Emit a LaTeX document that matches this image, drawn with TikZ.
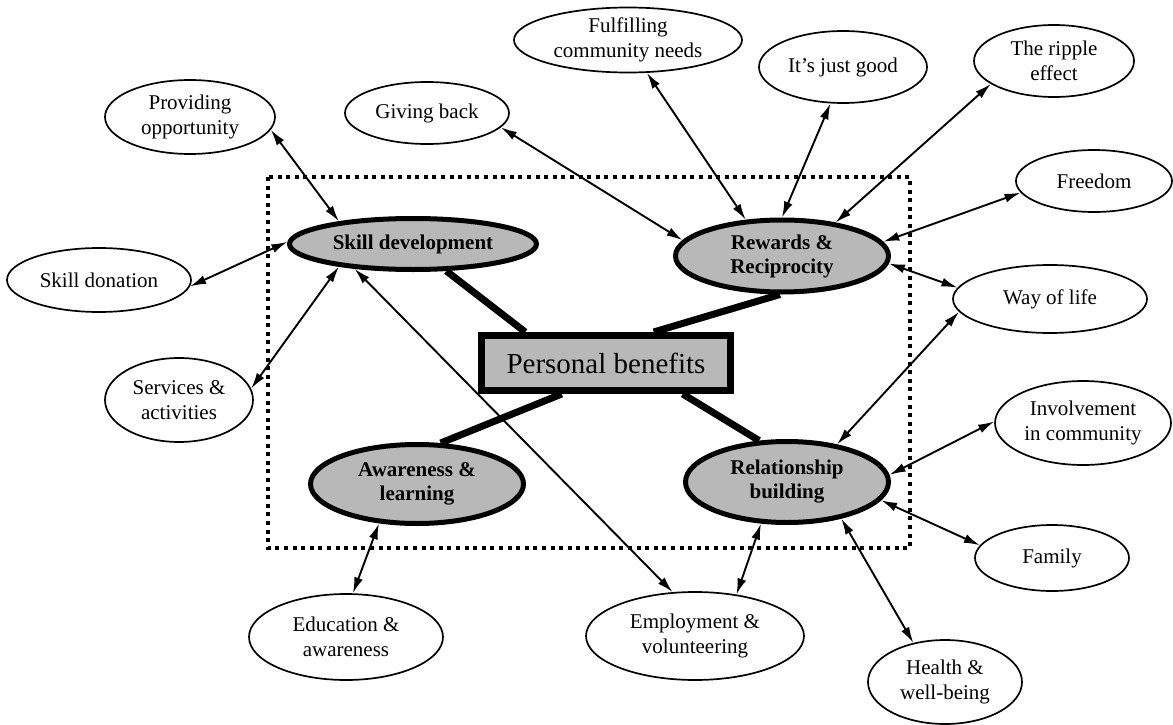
\documentclass[tikz,border=0pt]{standalone}
\usepackage{fontspec}
\setmainfont{Liberation Serif}
\usetikzlibrary{shapes.geometric,arrows.meta}
\pgfdeclarelayer{bg}
\pgfsetlayers{bg,main}
\definecolor{fillgray}{RGB}{184,184,184}
\begin{document}
\begin{tikzpicture}[x=1pt,y=-1pt,
  small/.style={ellipse, draw, line width=1.7pt, inner sep=0pt, align=center,
    font=\fontsize{21}{25}\selectfont},
  mainel/.style={ellipse, draw, line width=5pt, fill=fillgray, inner sep=0pt, align=center,
    font=\bfseries\fontsize{21}{24}\selectfont},
  link/.style={line width=1.9pt, {Latex[length=16pt,width=9pt]}-{Latex[length=16pt,width=9pt]}},
  spoke/.style={line width=7pt},
  frame/.style={line width=4pt, dash pattern=on 4pt off 4.6pt}
]
\useasboundingbox (0,0) rectangle (1173,725);

% dotted frame
\draw[frame] (268,177) rectangle (910,548);

% central box
\node[draw, line width=7pt, fill=fillgray, minimum width=249pt, minimum height=55pt,
  inner sep=0pt, font=\fontsize{29}{34}\selectfont] (pb) at (606,363) {Personal benefits};

% main ellipses
\node[mainel, minimum width=247pt, minimum height=51pt] (skill) at (413,244) {Skill development};
\node[mainel, minimum width=213pt, minimum height=72pt] (rew) at (782,256) {Rewards \&\\Reciprocity};
\node[mainel, minimum width=213pt, minimum height=79pt] (aware) at (417,484) {Awareness \&\\learning};
\node[mainel, minimum width=203pt, minimum height=81pt] (rel) at (787,482) {Relationship\\building};

% outer ellipses
\node[small, minimum width=170pt, minimum height=74pt] (prov) at (190,117) {Providing\\opportunity};
\node[small, minimum width=164pt, minimum height=62pt] (give) at (427,113) {Giving back};
\node[small, minimum width=228pt, minimum height=65pt] (fulf) at (628,40) {Fulfilling\\community needs};
\node[small, minimum width=168pt, minimum height=72pt] (good) at (843,67) {It’s just good};
\node[small, minimum width=160pt, minimum height=72pt] (ripple) at (1054,61) {The ripple\\effect};
\node[small, minimum width=156pt, minimum height=62pt] (free) at (1094,181) {Freedom};
\node[small, minimum width=194pt, minimum height=68pt] (way) at (1050,299) {Way of life};
\node[small, minimum width=176pt, minimum height=84pt] (inv) at (1083,423) {Involvement\\in community};
\node[small, minimum width=154pt, minimum height=66pt] (fam) at (1052,558) {Family};
\node[small, minimum width=154pt, minimum height=84pt] (health) at (945,682) {Health \&\\well-being};
\node[small, minimum width=218pt, minimum height=88pt] (empl) at (695,636) {Employment \&\\volunteering};
\node[small, minimum width=194pt, minimum height=86pt] (edu) at (346,637) {Education \&\\awareness};
\node[small, minimum width=148pt, minimum height=84pt] (serv) at (179,400) {Services \&\\activities};
\node[small, minimum width=184pt, minimum height=64pt] (sdon) at (99,280) {Skill donation};

% thick spokes behind
\begin{pgfonlayer}{bg}
\draw[spoke] (skill.-39) -- (pb.159);
\draw[spoke] (rew.267) -- (pb.33);
\draw[spoke] (pb.215) -- (aware.60);
\draw[spoke] (pb.-22) -- (rel.124);
\end{pgfonlayer}

% double arrows
\draw[link] (prov.-9) -- (skill.163);
\draw[link] (sdon.-4) -- (skill.179);
\draw[link] (serv.9) -- (skill.197);
\draw[link] (empl.117) -- (skill.203);
\draw[link] (give.-11) -- (rew.171);
\draw[link] (fulf.-60) -- (rew.135);
\draw[link] (good.251) -- (rew.90);
\draw[link] (ripple.200) -- (rew.32);
\draw[link] (free.189) -- (rew.8);
\draw[link] (way.173) -- (rew.-4);
\draw[link] (way.188) -- (rel.37);
\draw[link] (inv.179) -- (rel.4);
\draw[link] (fam.170) -- (rel.-11);
\draw[link] (health.129) -- (rel.-34);
\draw[link] (empl.45) -- (rel.238);
\draw[link] (edu.81) -- (aware.226);
\end{tikzpicture}
\end{document}
